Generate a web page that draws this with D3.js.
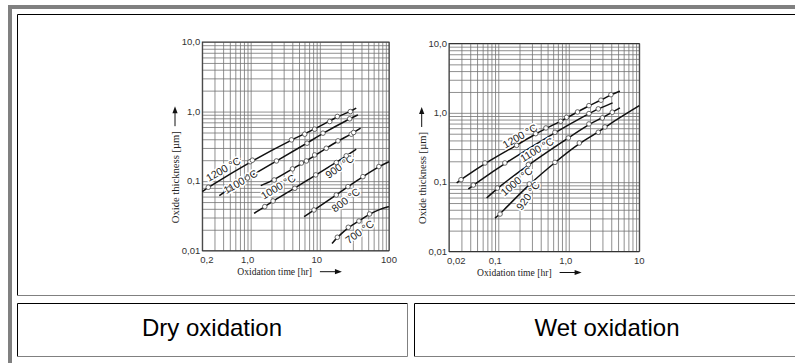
<!DOCTYPE html>
<html>
<head>
<meta charset="utf-8">
<script src="https://cdn.jsdelivr.net/npm/d3@7"></script>
<style>
  body { margin: 0; background: #fff; }
  svg { display: block; }
</style>
</head>
<body>
<svg id="page" width="795" height="363"></svg>
<script>
// values (time in hr, thickness in µm)
const yTicks = [10, 1, 0.1, 0.01];
const yTickLabels = ["10,0", "1,0", "0,1", "0,01"];

const dryXTicks = [0.2, 1, 10, 100];
const dryXTickLabels = ["0,2", "1,0", "10", "100"];
const wetXTicks = [0.02, 0.1, 1, 10];
const wetXTickLabels = ["0,02", "0,1", "1,0", "10"];

const dryLabels = ["1200 °C", "1100 °C", "1000 °C", "900 °C", "800 °C", "700 °C"];
const dryLines = [
  [[0.2, 0.0707], [0.244, 0.0816], [1.03, 0.195], [3.89, 0.392], [8.43, 0.558], [17.9, 0.85], [27.6, 1.0], [33.6, 1.12]],
  [[0.352, 0.0619], [0.485, 0.0772], [0.9, 0.111], [2.36, 0.195], [6.54, 0.351], [11.1, 0.489], [27.0, 0.787], [35.6, 0.898]],
  [[1.40, 0.0863], [2.19, 0.104], [4.02, 0.15], [6.4, 0.195], [12.4, 0.297], [18.3, 0.379], [28.5, 0.473], [38.8, 0.577]],
  [[1.12, 0.0344], [1.6, 0.043], [2.11, 0.0519], [4.35, 0.0789], [8.71, 0.123], [17.3, 0.185], [24.1, 0.231], [33.6, 0.288]],
  [[5.92, 0.0308], [8.25, 0.0385], [17.3, 0.0633], [25.5, 0.0834], [42.0, 0.116], [71.4, 0.162], [100, 0.19]],
  [[15.0, 0.0127], [17.9, 0.0156], [25.8, 0.0217], [36.8, 0.0267], [52.4, 0.0337], [73, 0.0394], [100, 0.043]]
];
const dryDots = [
  [[0.244, 0.0816], [0.98, 0.19], [1.06, 0.2], [3.89, 0.392], [6.05, 0.473], [8.43, 0.558], [13.9, 0.72], [17.9, 0.85], [27.6, 1.0]],
  [[0.485, 0.0772], [0.9, 0.111], [2.36, 0.195], [6.54, 0.351], [11.1, 0.489], [27.0, 0.787]],
  [[2.19, 0.104], [4.02, 0.15], [5.42, 0.182], [6.4, 0.195], [8.43, 0.238], [12.4, 0.297], [18.3, 0.379], [28.5, 0.473], [30.8, 0.5]],
  [[1.6, 0.043], [2.11, 0.0519], [4.35, 0.0789], [8.71, 0.123], [17.3, 0.185], [24.1, 0.231]],
  [[8.25, 0.0385], [17.3, 0.0633], [25.5, 0.0834], [42.0, 0.116], [71.4, 0.162]],
  [[17.9, 0.0156], [25.8, 0.0217], [36.8, 0.0267], [52.4, 0.0337]]
];

const wetLabels = ["1200 °C", "1100 °C", "1000 °C", "920 °C"];
const wetLines = [
  [[0.0257, 0.0972], [0.0296, 0.1086], [0.0648, 0.189], [0.182, 0.34], [0.339, 0.501], [0.766, 0.755], [1.33, 1.03], [1.93, 1.27], [2.86, 1.52], [3.96, 1.83], [5.31, 2.05]],
  [[0.0376, 0.0796], [0.0443, 0.0909], [0.124, 0.189], [0.637, 0.524], [1.93, 0.975], [2.62, 1.14], [4.18, 1.39]],
  [[0.0684, 0.059], [0.097, 0.0823], [0.267, 0.179], [0.984, 0.434], [1.93, 0.691], [2.99, 0.844], [4.14, 1.02], [5.31, 1.18]],
  [[0.0898, 0.0303], [0.106, 0.0347], [0.275, 0.094], [0.637, 0.193], [1.41, 0.367], [2.62, 0.524], [3.26, 0.626], [10, 1.27]]
];
const wetDots = [
  [[0.0296, 0.1086], [0.0648, 0.189], [0.182, 0.34], [0.339, 0.501], [0.474, 0.605], [0.766, 0.755], [0.932, 0.863], [1.33, 1.03], [1.93, 1.27], [2.86, 1.52], [3.96, 1.83]],
  [[0.0443, 0.0909], [0.124, 0.189], [0.637, 0.524], [1.93, 0.975], [2.62, 1.14]],
  [[0.097, 0.0823], [0.267, 0.179], [0.984, 0.434], [1.93, 0.691], [2.99, 0.844], [4.14, 1.02]],
  [[0.106, 0.0347], [0.275, 0.094], [0.637, 0.193], [1.41, 0.367], [2.62, 0.524], [3.26, 0.626]]
];

const captions = ["Dry oxidation", "Wet oxidation"];

// label placement (data coords + rotation), kept apart from the data
const dryLabelAt = [[0.402, 0.148, -30], [0.716, 0.0982, -30], [2.5, 0.0832, -31], [19.4, 0.162, -36], [23.7, 0.0535, -37], [37.6, 0.0187, -36]];
const wetLabelAt = [[0.203, 0.464, -30], [0.354, 0.294, -31], [0.182, 0.1026, -40], [0.264, 0.0637, -54]];

const svg = d3.select('#page');

// html-table look: outer border + three cells
const gray = '#808080';
svg.append('rect').attr('x', 8).attr('y', 5).attr('width', 795 - 8).attr('height', 4).attr('fill', gray);
svg.append('rect').attr('x', 8).attr('y', 5).attr('width', 4).attr('height', 363 - 5).attr('fill', gray);

const cells = [
  { x0: 17.5, y0: 14.5, x1: 802, y1: 295.5 },
  { x0: 17.5, y0: 303.5, x1: 407.5, y1: 356.5 },
  { x0: 414.5, y0: 303.5, x1: 802, y1: 356.5 }
];
cells.forEach((c) => {
  svg.append('path').attr('d', `M${c.x0},${c.y1}V${c.y0}H${c.x1}`).attr('fill', 'none').attr('stroke', '#000');
  svg.append('path').attr('d', `M${c.x0},${c.y1}H${c.x1}V${c.y0}`).attr('fill', 'none').attr('stroke', gray);
});

svg.selectAll('text.caption')
  .data(captions)
  .enter()
  .append('text')
    .attr('class', 'caption')
    .attr('x', (d, i) => i === 0 ? 212 : 607)
    .attr('y', 336)
    .attr('text-anchor', 'middle')
    .style('font-family', 'Liberation Sans, Arial, sans-serif')
    .style('font-size', '24px')
    .text((d) => d);

function drawChart(box, xDomain, xTicks, xTickLabels, lines, dots, labels, labelAt, titleDx) {
  const g = svg.append('g');
  const x = d3.scaleLog().domain(xDomain).range([box.x0, box.x1]);
  const y = d3.scaleLog().domain([0.01, 10]).range([box.y1, box.y0]);
  const h = box.y1 - box.y0;
  const w = box.x1 - box.x0;

  // grid from the axes
  g.append('g')
    .attr('transform', 'translate(0,' + box.y1 + ')')
    .call(d3.axisBottom(x).tickValues(x.ticks()).tickSize(-h).tickFormat(''))
    .call((a) => a.select('.domain').remove());
  g.append('g')
    .attr('transform', 'translate(' + box.x0 + ',0)')
    .call(d3.axisLeft(y).tickValues(y.ticks()).tickSize(-w).tickFormat(''))
    .call((a) => a.select('.domain').remove());
  g.selectAll('.tick line').attr('stroke', '#747474').attr('stroke-width', 0.8);

  g.append('rect')
    .attr('x', box.x0).attr('y', box.y0)
    .attr('width', w).attr('height', h)
    .attr('fill', 'none').attr('stroke', '#333').attr('stroke-width', 1);

  // tick labels
  g.selectAll('text.yt')
    .data(yTicks)
    .enter()
    .append('text')
      .attr('x', box.x0 - 2)
      .attr('y', (d) => y(d) + 3.3)
      .attr('text-anchor', 'end')
      .style('font-family', 'Liberation Sans, Arial, sans-serif')
      .style('font-size', '9.5px')
      .attr('fill', '#333')
      .text((d, i) => yTickLabels[i]);
  g.selectAll('text.xt')
    .data(xTicks)
    .enter()
    .append('text')
      .attr('x', (d, i) => i === 0 ? x(d) - 2 : x(d) - (i === xTicks.length - 1 ? 0 : 3))
      .attr('y', box.y1 + 12.5)
      .attr('text-anchor', (d, i) => i === 0 ? 'start' : 'middle')
      .style('font-family', 'Liberation Sans, Arial, sans-serif')
      .style('font-size', '9.5px')
      .attr('fill', '#333')
      .text((d, i) => xTickLabels[i]);

  // curves
  const line = d3.line()
    .x((d) => x(d[0]))
    .y((d) => y(d[1]))
    .curve(d3.curveBasis);
  g.selectAll('path.curve')
    .data(lines)
    .enter()
    .append('path')
      .attr('d', line)
      .attr('fill', 'none')
      .attr('stroke', '#111')
      .attr('stroke-width', 1.5);

  // temperature labels with white halo
  g.selectAll('text.temp')
    .data(labels)
    .enter()
    .append('text')
      .attr('transform', (d, i) => 'translate(' + x(labelAt[i][0]) + ',' + y(labelAt[i][1]) + ') rotate(' + labelAt[i][2] + ')')
      .attr('dy', '0.35em')
      .attr('text-anchor', 'middle')
      .style('font-family', 'Liberation Sans, Arial, sans-serif')
      .style('font-size', '10.5px')
      .attr('fill', '#222')
      .attr('stroke', '#fff')
      .attr('stroke-width', 3)
      .style('paint-order', 'stroke')
      .text((d) => d);

  // measured points
  dots.forEach((pts) => {
    g.selectAll(null)
      .data(pts)
      .enter()
      .append('circle')
        .attr('cx', (d) => x(d[0]))
        .attr('cy', (d) => y(d[1]))
        .attr('r', 2.3)
        .attr('fill', '#fff')
        .attr('stroke', '#444')
        .attr('stroke-width', 0.8);
  });

  // axis titles with arrows
  const yt = g.append('text')
    .attr('transform', 'translate(' + (box.x0 - 23.5) + ',' + (box.y1 - 27.5) + ') rotate(-90)')
    .style('font-family', 'Liberation Serif, Times New Roman, serif')
    .style('font-size', '10.6px')
    .attr('fill', '#222')
    .text('Oxide thickness [µm]');
  const ylen = yt.node().getComputedTextLength();
  const ax = box.x0 - 27.3;
  const aTop = box.y1 - 27.5 - ylen - 25;
  g.append('line').attr('x1', ax).attr('x2', ax)
    .attr('y1', aTop + 20).attr('y2', aTop + 4)
    .attr('stroke', '#111').attr('stroke-width', 1);
  g.append('path').attr('d', `M${ax},${aTop}L${ax - 2.6},${aTop + 7}L${ax + 2.6},${aTop + 7}Z`).attr('fill', '#111');

  const xt = g.append('text')
    .attr('x', box.x0 + titleDx)
    .attr('y', box.y1 + 24.5)
    .style('font-family', 'Liberation Serif, Times New Roman, serif')
    .style('font-size', '9.6px')
    .attr('fill', '#222')
    .text('Oxidation time [hr]');
  const xlen = xt.node().getComputedTextLength();
  const bx = box.x0 + titleDx + xlen + 8;
  const by = box.y1 + 21;
  g.append('line').attr('x1', bx).attr('x2', bx + 16)
    .attr('y1', by).attr('y2', by)
    .attr('stroke', '#111').attr('stroke-width', 1);
  g.append('path').attr('d', `M${bx + 22},${by}L${bx + 15},${by - 2.6}L${bx + 15},${by + 2.6}Z`).attr('fill', '#111');
}

drawChart({ x0: 202.3, x1: 389, y0: 42, y1: 250.7 }, [0.2, 100], dryXTicks, dryXTickLabels,
  dryLines, dryDots, dryLabels, dryLabelAt, 35);
drawChart({ x0: 449, x1: 639.3, y0: 43.5, y1: 251.5 }, [0.02, 10], wetXTicks, wetXTickLabels,
  wetLines, wetDots, wetLabels, wetLabelAt, 28);
</script>
</body>
</html>
